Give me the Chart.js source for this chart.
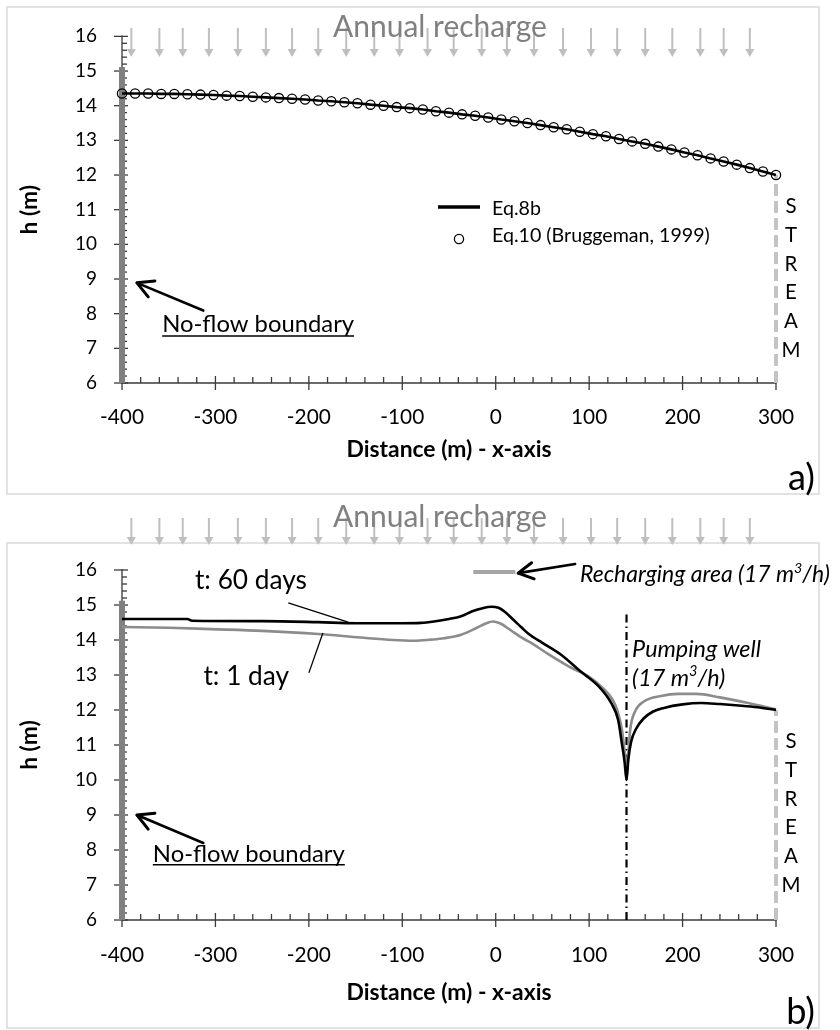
<!DOCTYPE html>
<html><head><meta charset="utf-8">
<script src="https://cdn.jsdelivr.net/npm/chart.js@4.4.1/dist/chart.umd.min.js"></script>
<style>
html,body{margin:0;padding:0;background:#fff}
body{width:840px;height:1030px;position:relative;overflow:hidden}
canvas{position:absolute;left:0}
#c1{top:0}
#c2{top:500px}
</style></head><body>
<canvas id="c1" width="840" height="500"></canvas>
<canvas id="c2" width="840" height="530"></canvas>
<script>
// ---------------- DATA ----------------
const xTicks = [-400, -300, -200, -100, 0, 100, 200, 300];
const xTickLabels = ['-400', '-300', '-200', '-100', '0', '100', '200', '300'];
const yTicks = [6, 7, 8, 9, 10, 11, 12, 13, 14, 15, 16];
const yTickLabels = ['6', '7', '8', '9', '10', '11', '12', '13', '14', '15', '16'];

// Panel a) : steady head profile
const xA = [-400,-386,-372,-358,-344,-330,-316,-302,-288,-274,-260,-246,-232,-218,-204,-190,-176,-162,-148,-134,-120,-106,-92,-78,-64,-50,-36,-22,-8,6,20,34,48,62,76,90,104,118,132,146,160,174,188,202,216,230,244,258,272,286,300];
const hEq8b = [14.35,14.35,14.35,14.34,14.34,14.33,14.32,14.31,14.29,14.28,14.26,14.24,14.22,14.20,14.18,14.15,14.13,14.10,14.07,14.03,14.00,13.96,13.93,13.89,13.84,13.80,13.75,13.71,13.66,13.60,13.55,13.50,13.44,13.38,13.32,13.25,13.18,13.12,13.04,12.97,12.90,12.82,12.74,12.65,12.57,12.48,12.39,12.30,12.20,12.10,12.00];
const hEq10 = [14.35,14.35,14.35,14.34,14.34,14.33,14.32,14.31,14.29,14.28,14.26,14.24,14.22,14.20,14.18,14.15,14.13,14.10,14.07,14.03,14.00,13.96,13.93,13.89,13.84,13.80,13.75,13.71,13.66,13.60,13.55,13.50,13.44,13.38,13.32,13.25,13.18,13.12,13.04,12.97,12.90,12.82,12.74,12.65,12.57,12.48,12.39,12.30,12.20,12.10,12.00];

// Panel b) : transient profiles with pumping well
const x60 = [-400,-330,-325,-250,-190,-150,-100,-80,-66,-50,-37,-25,-15,-5,3,10,20,28,35,50,70,90,110,124,131,135,138,140,142,145,150,158,168,180,200,220,240,260,280,300];
const h60 = [14.60,14.60,14.55,14.54,14.51,14.48,14.48,14.49,14.53,14.60,14.68,14.82,14.90,14.95,14.92,14.80,14.55,14.35,14.18,13.92,13.58,13.12,12.68,12.18,11.72,11.05,10.50,10.00,10.60,11.10,11.45,11.75,11.95,12.06,12.16,12.20,12.17,12.13,12.08,12.00];
const x1 = [-400,-350,-305,-250,-190,-145,-110,-87,-70,-55,-37,-20,-10,-3,5,15,27,40,55,80,100,115,125,130,135,138,140,142,144,149,159,177,195,215,240,270,300];
const h1 = [14.37,14.35,14.31,14.26,14.17,14.07,14.00,13.98,14.01,14.05,14.15,14.35,14.48,14.53,14.47,14.30,14.08,13.88,13.62,13.22,12.95,12.62,12.30,12.00,11.45,10.80,10.30,10.80,11.45,11.95,12.25,12.40,12.46,12.46,12.36,12.20,12.02];

// boundaries / features (data units)
const noFlowX = [-400, -400], noFlowH = [6, 15.12];
const streamX = [300, 300], streamH = [6, 12];
const wellX = [140, 140], wellH = [6, 14.83];
const rechargeX = [-24, 21], rechargeH = [15.94, 15.94];
const rechargeArrowsX = [-390,-360,-335,-307,-276,-246,-218,-190,-160,-130,-103,-73,-45,-15,12,41,72,102,130,160,189,219,244,272];
const streamLetters = ['S', 'T', 'R', 'E', 'A', 'M'];

// ---------------- HELPERS ----------------
const FAM = 'Lato, "Open Sans", sans-serif';
const mctx = document.createElement('canvas').getContext('2d');
function fit(text, w, style) { mctx.font = (style || '') + ' 100px ' + FAM; return 100 * w / mctx.measureText(text).width; }
const fsXTick = fit('-400', 44);
const fsYTick = fit('16', 22);
const fsTitle = fit('Distance (m) - x-axis', 205, 'bold');
const fsLegend = fit('Eq.10 (Bruggeman, 1999)', 218);
const fsAnnual = fit('Annual recharge', 214);
const fsNoFlow = fit('No-flow boundary', 192);
const fsRech = fit('Recharging area (17 m3/h)', 255, 'italic');
const fsPump = fit('Pumping well', 129, 'italic');
const fsT60 = fit('t: 60 days', 112);
const fsStream = fit('M', 19);
const fsPanel = fit('a)', 27);

function fnt(size, style, weight) { return (style || '') + ' ' + (weight || '') + ' ' + size + 'px ' + FAM; }
function seg(ctx, x1, y1, x2, y2) { ctx.beginPath(); ctx.moveTo(x1, y1); ctx.lineTo(x2, y2); ctx.stroke(); }
function txt(ctx, s, x, y, size, o) {
  o = o || {};
  ctx.font = fnt(size, o.style, o.weight);
  ctx.fillStyle = o.color || '#000';
  ctx.textAlign = o.align || 'left';
  ctx.textBaseline = 'middle';
  ctx.fillText(s, x, y);
  return ctx.measureText(s).width;
}
function supTxt(ctx, parts, x, y, size, style) {
  // parts: [normal, sup, normal]
  ctx.fillStyle = '#000'; ctx.textAlign = 'left'; ctx.textBaseline = 'middle';
  ctx.font = fnt(size, style); ctx.fillText(parts[0], x, y); x += ctx.measureText(parts[0]).width;
  ctx.font = fnt(size * 0.62, style); ctx.fillText(parts[1], x, y - size * 0.3); x += ctx.measureText(parts[1]).width;
  ctx.font = fnt(size, style); ctx.fillText(parts[2], x, y);
}
function openArrow(ctx, x1, y1, x2, y2, head) {
  ctx.save(); ctx.strokeStyle = '#000'; ctx.lineWidth = 2.6; ctx.lineCap = 'round'; ctx.lineJoin = 'round';
  seg(ctx, x1, y1, x2, y2);
  const a = Math.atan2(y2 - y1, x2 - x1);
  ctx.lineWidth = 3;
  ctx.beginPath();
  ctx.moveTo(x2 - head * Math.cos(a - 0.5), y2 - head * Math.sin(a - 0.5));
  ctx.lineTo(x2, y2);
  ctx.lineTo(x2 - head * Math.cos(a + 0.5), y2 - head * Math.sin(a + 0.5));
  ctx.stroke();
  ctx.restore();
}
function downArrows(chart, yTop, yTip) {
  const ctx = chart.ctx, sx = chart.scales.x;
  ctx.save(); ctx.strokeStyle = '#bfbfbf'; ctx.fillStyle = '#bfbfbf'; ctx.lineWidth = 2;
  rechargeArrowsX.forEach(v => {
    const px = sx.getPixelForValue(v);
    seg(ctx, px, yTop, px, yTip - 6);
    ctx.beginPath(); ctx.moveTo(px - 4.5, yTip - 8); ctx.lineTo(px + 4.5, yTip - 8); ctx.lineTo(px, yTip); ctx.closePath(); ctx.fill();
  });
  ctx.restore();
}
function P(chart, x, y) { return [chart.scales.x.getPixelForValue(x), chart.scales.y.getPixelForValue(y)]; }

const AXIS = '#3a3a3a';
const axesPlugin = {
  id: 'axesTicks',
  beforeDatasetsDraw(chart) {
    const ctx = chart.ctx, a = chart.chartArea, x = chart.scales.x, y = chart.scales.y;
    ctx.save(); ctx.strokeStyle = AXIS; ctx.lineWidth = 1.3;
    seg(ctx, a.left, a.top - 1, a.left, a.bottom); seg(ctx, a.left, a.bottom, a.right + 0.6, a.bottom);
    for (let i = 0; i <= 35; i++) {
      const p = x.getPixelForValue(-400 + i * 20);
      if (i % 5 === 0) seg(ctx, p, a.bottom - 7, p, a.bottom + 7); else seg(ctx, p, a.bottom - 6, p, a.bottom);
    }
    for (let i = 0; i <= 50; i++) {
      const p = y.getPixelForValue(6 + i * 0.2);
      if (i % 5 === 0) seg(ctx, a.left - 8, p, a.left + 6, p); else seg(ctx, a.left, p, a.left + 5, p);
    }
    ctx.restore();
  }
};
function borderPlugin(x1, y1, x2, y2) {
  return { id: 'panelBorder', beforeDraw(chart) {
    const ctx = chart.ctx; ctx.save(); ctx.strokeStyle = '#d9d9d9'; ctx.lineWidth = 1.5;
    ctx.strokeRect(x1, y1, x2 - x1, y2 - y1); ctx.restore();
  }};
}

function scaleOpts(xH, xTitleCenterFromBottom, labelGap) {
  const lhX = fsXTick * 1.2, lhT = fsTitle * 1.2;
  return {
    x: {
      type: 'linear', min: -400, max: 300,
      afterBuildTicks: s => { s.ticks = xTicks.map(v => ({ value: v })); },
      ticks: { font: { family: FAM, size: fsXTick }, color: '#000', padding: labelGap - lhX / 2, maxRotation: 0, autoSkip: false,
               callback: (v, i) => xTickLabels[i] },
      grid: { display: false, drawTicks: false }, border: { display: false },
      title: { display: true, text: 'Distance (m) - x-axis', color: '#000',
               font: { family: FAM, size: fsTitle, weight: 'bold' }, padding: { top: 0, bottom: xTitleCenterFromBottom - lhT / 2 } },
      afterFit: s => { s.height = xH; }
    },
    y: {
      type: 'linear', min: 6, max: 16,
      afterBuildTicks: s => { s.ticks = yTicks.map(v => ({ value: v })); },
      ticks: { font: { family: FAM, size: fsYTick }, color: '#000', padding: 25, autoSkip: false,
               callback: (v, i) => yTickLabels[i] },
      grid: { display: false, drawTicks: false }, border: { display: false },
      title: { display: true, text: 'h (m)', color: '#000',
               font: { family: FAM, size: fsTitle, weight: 'bold' }, padding: { top: 30 - lhT / 2, bottom: 0 } },
      afterFit: s => { s.width = 122; }
    }
  };
}
const pts = (xs, hs) => xs.map((x, i) => ({ x: x, y: hs[i] }));
const baseOpts = { responsive: false, animation: false, events: [], devicePixelRatio: 1,
  plugins: { legend: { display: false }, tooltip: { enabled: false } } };

// ---------------- CHART a) ----------------
const annotA = {
  id: 'annotA',
  afterDraw(chart) {
    const ctx = chart.ctx;
    downArrows(chart, 28, 57);
    txt(ctx, 'Annual recharge', 440, 27, fsAnnual, { align: 'center', color: '#808080' });
    // legend
    ctx.save(); ctx.strokeStyle = '#000'; ctx.lineWidth = 3.5; seg(ctx, 438, 207, 480, 207);
    ctx.lineWidth = 1.3; ctx.beginPath(); ctx.arc(459, 239, 4.6, 0, Math.PI * 2); ctx.stroke(); ctx.restore();
    txt(ctx, 'Eq.8b', 492, 209, fsLegend);
    txt(ctx, 'Eq.10 (Bruggeman, 1999)', 492, 236, fsLegend);
    // no-flow boundary
    let p = P(chart, -357, 7.70);
    const w = txt(ctx, 'No-flow boundary', p[0], p[1], fsNoFlow);
    ctx.save(); ctx.strokeStyle = '#000'; ctx.lineWidth = 1.5; seg(ctx, p[0], p[1] + 12, p[0] + w, p[1] + 12); ctx.restore();
    const t = P(chart, -313, 8.09), h = P(chart, -384, 8.89);
    openArrow(ctx, t[0], t[1], h[0], h[1], 18);
    // stream letters
    streamLetters.forEach((L, i) => { const q = P(chart, 316, 11.09 - i * 0.83); txt(ctx, L, q[0], q[1], fsStream, { align: 'center' }); });
    txt(ctx, 'a)', 815, 478, fsPanel, { align: 'right' });
  }
};
new Chart(document.getElementById('c1'), {
  type: 'scatter',
  data: { datasets: [
    { label: 'Eq.10 (Bruggeman, 1999)', data: pts(xA, hEq10), showLine: false, pointStyle: 'circle', pointRadius: 4.6,
      pointBorderWidth: 1.3, pointBorderColor: '#000', pointBackgroundColor: 'rgba(0,0,0,0)', clip: false },
    { label: 'Eq.8b', data: pts(xA, hEq8b), showLine: true, borderColor: '#000', borderWidth: 2.6, pointRadius: 0, tension: 0, clip: false },
    { label: 'No-flow', data: pts(noFlowX, noFlowH), showLine: true, borderColor: '#808080', borderWidth: 6, pointRadius: 0, clip: false },
    { label: 'Stream', data: pts(streamX, streamH), showLine: true, borderColor: '#c4c4c4', borderWidth: 4, borderDash: [12, 5], pointRadius: 0, clip: false }
  ]},
  options: Object.assign({}, baseOpts, {
    layout: { padding: { left: 0, right: 64, top: 33, bottom: 0 } },
    scales: scaleOpts(117, 50, 34)
  }),
  plugins: [borderPlugin(7, 7, 819, 494), axesPlugin, annotA]
});

// ---------------- CHART b) ----------------
const annotB = {
  id: 'annotB',
  afterDraw(chart) {
    const ctx = chart.ctx;
    downArrows(chart, 18, 45);
    txt(ctx, 'Annual recharge', 440, 17, fsAnnual, { align: 'center', color: '#808080' });
    // recharging area annotation
    let a = P(chart, 85, 16.17), b = P(chart, 24, 15.91);
    openArrow(ctx, a[0], a[1], b[0], b[1], 17);
    supTxt(ctx, ['Recharging area (17 m', '3', '/h)'], 580, 75, fsRech, 'italic');
    // pumping well
    let q = P(chart, 146, 13.74);
    txt(ctx, 'Pumping well', q[0], q[1], fsPump, { style: 'italic' });
    q = P(chart, 146, 12.91);
    supTxt(ctx, ['(17 m', '3', '/h)'], q[0], q[1], fsPump, 'italic');
    // time labels
    q = P(chart, -262, 15.69); txt(ctx, 't: 60 days', q[0], q[1], fsT60, { align: 'center' });
    q = P(chart, -267, 12.97); txt(ctx, 't: 1 day', q[0], q[1], fsT60, { align: 'center' });
    ctx.save(); ctx.strokeStyle = '#000'; ctx.lineWidth = 1.3;
    a = P(chart, -222, 15.06); b = P(chart, -158, 14.51); seg(ctx, a[0], a[1], b[0], b[1]);
    a = P(chart, -200, 13.06); b = P(chart, -185, 14.20); seg(ctx, a[0], a[1], b[0], b[1]);
    ctx.restore();
    // no-flow boundary
    let p = P(chart, -367, 7.89);
    const w = txt(ctx, 'No-flow boundary', p[0], p[1], fsNoFlow);
    ctx.save(); ctx.strokeStyle = '#000'; ctx.lineWidth = 1.5; seg(ctx, p[0], p[1] + 11, p[0] + w, p[1] + 11); ctx.restore();
    const t = P(chart, -313, 8.2), h = P(chart, -384, 9.0);
    openArrow(ctx, t[0], t[1], h[0], h[1], 18);
    streamLetters.forEach((L, i) => { const r = P(chart, 316, 11.11 - i * 0.825); txt(ctx, L, r[0], r[1], fsStream, { align: 'center' }); });
    txt(ctx, 'b)', 815, 512, fsPanel, { align: 'right' });
  }
};
new Chart(document.getElementById('c2'), {
  type: 'scatter',
  data: { datasets: [
    { label: 't: 60 days', data: pts(x60, h60), showLine: true, borderColor: '#000', borderWidth: 2.6, pointRadius: 0, cubicInterpolationMode: 'monotone', clip: false },
    { label: 't: 1 day', data: pts(x1, h1), showLine: true, borderColor: '#8c8c8c', borderWidth: 2.6, pointRadius: 0, cubicInterpolationMode: 'monotone', clip: false },
    { label: 'Recharging area', data: pts(rechargeX, rechargeH), showLine: true, borderColor: '#a6a6a6', borderWidth: 4, pointRadius: 0, clip: false },
    { label: 'Pumping well', data: pts(wellX, wellH), showLine: true, borderColor: '#000', borderWidth: 2.2, borderDash: [8, 4, 1.5, 4], pointRadius: 0, clip: false },
    { label: 'No-flow', data: pts(noFlowX, noFlowH), showLine: true, borderColor: '#808080', borderWidth: 6, pointRadius: 0, clip: false },
    { label: 'Stream', data: pts(streamX, streamH), showLine: true, borderColor: '#c4c4c4', borderWidth: 4, borderDash: [12, 5], pointRadius: 0, clip: false }
  ]},
  options: Object.assign({}, baseOpts, {
    layout: { padding: { left: 0, right: 64, top: 70, bottom: 0 } },
    scales: scaleOpts(110, 37, 35)
  }),
  plugins: [borderPlugin(7, 43, 819, 528), axesPlugin, annotB]
});
</script>
</body></html>
